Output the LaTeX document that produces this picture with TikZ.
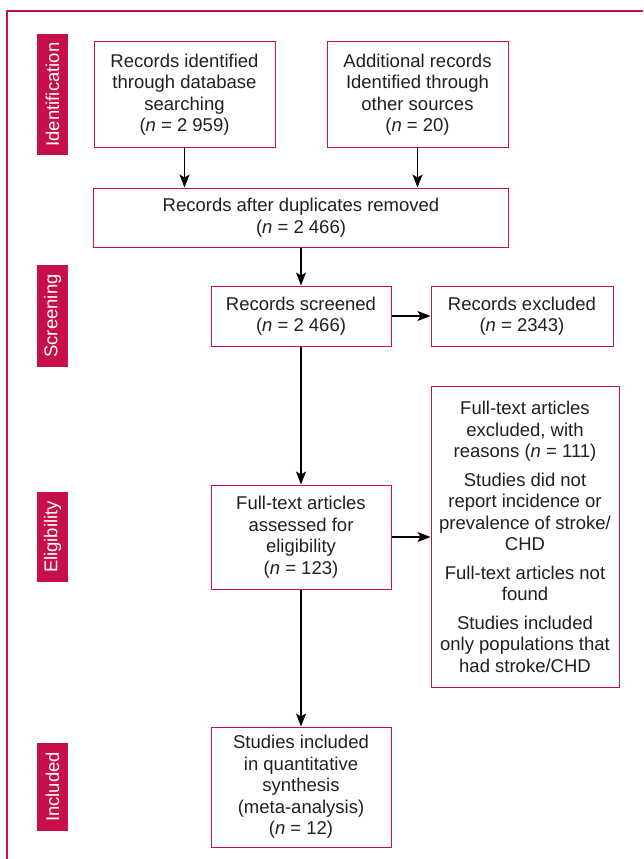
\documentclass[tikz,border=0pt]{standalone}
\usepackage{fontspec}
\setmainfont{Liberation Sans}
\usetikzlibrary{positioning,arrows.meta,calc}

\newcommand{\prismafont}{\fontsize{18.5}{21.5}\selectfont}

\begin{document}
\begin{tikzpicture}[x=1pt, y=-1pt,
		box/.style={draw=prismared, line width=1pt, fill=white, text=textgray, align=center, inner sep=0pt, font=\prismafont},
		tab/.style={fill=prismared, text=white, rotate=90, minimum height=31pt, inner xsep=9pt, inner ysep=0pt, font=\prismafont},
		arrow/.style={draw=black, line width=1.1pt, -{Stealth[length=13pt, width=10pt, inset=3pt]}}]
		
		% Colors
		\definecolor{prismared}{RGB}{200,16,72}
		\definecolor{textgray}{RGB}{35,31,32}
		
		\useasboundingbox (0,0) rectangle (643,859);
		
		% Frame
		\draw[prismared, line width=2pt] (643,11) -- (7,11) -- (7,859);
		
		% Identification
		\node (idbox) [box, minimum width=181pt, minimum height=105pt] at (184.5,94.5) {Records identified\\through database\\searching\\(\textit{n} = 2 959)};
		\node (otherbox) [box, minimum width=181pt, minimum height=105pt, right=51pt of idbox] {Additional records\\Identified through\\other sources\\(\textit{n} = 20)};
		\coordinate (idmid) at ($(idbox.south)!0.5!(otherbox.south)$);
		\node (dupbox) [box, minimum width=415pt, minimum height=59pt, below=40pt of idmid] {Records after duplicates removed\\(\textit{n} = 2 466)};
		
		% Screening
		\node (screened) [box, minimum width=180pt, minimum height=60pt, below=38pt of dupbox] {Records screened\\(\textit{n} = 2 466)};
		\node (excluded) [box, minimum width=182pt, minimum height=60pt, right=39pt of screened] {Records excluded\\(\textit{n} = 2343)};
		
		% Eligibility
		\node (assessed) [box, minimum width=180pt, minimum height=104pt, below=138pt of screened] {Full-text articles\\assessed for\\eligibility\\(\textit{n} = 123)};
		\node (ftexcl) [box, minimum width=188pt, minimum height=301pt, right=39pt of assessed] {Full-text articles\\excluded, with\\reasons (\textit{n} = 111)\\[7pt]Studies did not\\report incidence or\\prevalence of stroke/\\CHD\\[7pt]Full-text articles not\\found\\[7pt]Studies included\\only populations that\\had stroke/CHD};
		
		% Included
		\node (studies) [box, minimum width=180pt, minimum height=120pt, below=137pt of assessed] {Studies included\\in quantitative\\synthesis\\(meta-analysis)\\(\textit{n} = 12)};
		
		% Connections
		\draw[arrow] (idbox.south) -- (idbox.south |- dupbox.north);
		\draw[arrow] (otherbox.south) -- (otherbox.south |- dupbox.north);
		\draw[arrow] (dupbox) -- (screened);
		\draw[arrow] (screened) -- (excluded);
		\draw[arrow] (screened) -- (assessed);
		\draw[arrow] (assessed) -- (ftexcl);
		\draw[arrow] (assessed) -- (studies);
		
		% Labels
		\coordinate (tabcol) at (52.5,0);
		\node (idtab) [tab] at (tabcol |- idbox) {Identification};
		\node (screentab) [tab] at (tabcol |- screened) {Screening};
		\node (eligtab) [tab] at (tabcol |- assessed) {Eligibility};
		\node (incltab) [tab] at (tabcol |- studies) {Included};
		
	\end{tikzpicture}
\end{document}
